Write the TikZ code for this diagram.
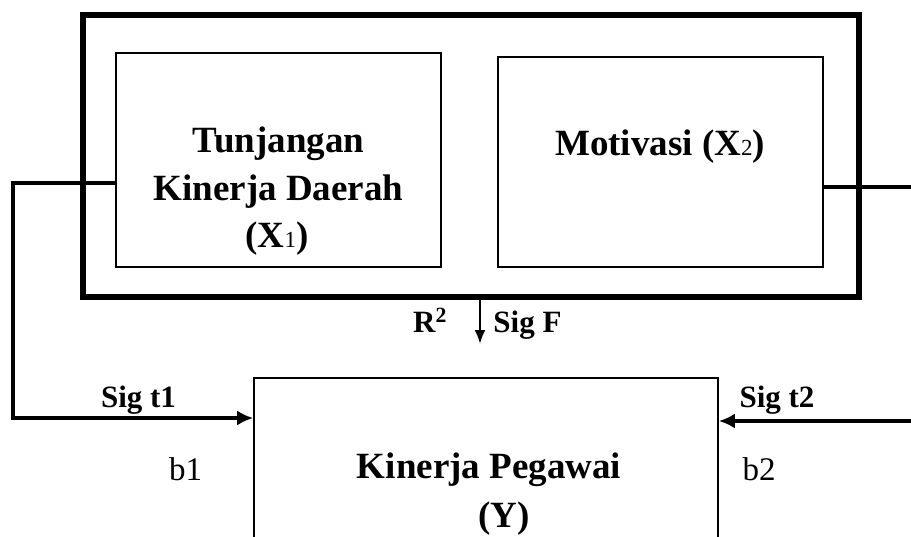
\documentclass[tikz,border=0pt]{standalone}
\usepackage{fontspec}
\setmainfont{Liberation Serif}
\usetikzlibrary{arrows.meta}
\usetikzlibrary{positioning}
\tikzset{
	grpbox/.style={draw, line width=6pt, inner sep=0pt},
	varbox/.style={draw, line width=1.6pt, inner sep=0pt},
	arr/.style={line width=3.6pt, -{Latex[length=16pt,width=15pt]}},
	farr/.style={line width=2.4pt, -{Latex[length=14pt,width=11pt]}},
	big/.style={font=\fontsize{37}{44}\selectfont\bfseries, inner sep=0pt, anchor=base},
	small/.style={font=\fontsize{31}{36}\selectfont\bfseries, inner sep=0pt, anchor=base},
	coef/.style={font=\fontsize{33}{36}\selectfont, inner sep=0pt, anchor=base}
}
\newcommand{\idx}[1]{{\mdseries\fontsize{23}{23}\selectfont #1}}

\begin{document}
\begin{tikzpicture}[x=1pt, y=-1pt]
		\useasboundingbox (0,0) rectangle (911,536);
		% boxes
		\node[grpbox, minimum width=776pt, minimum height=282pt] (grp) at (471,156) {};
		\node[varbox, minimum width=325pt, minimum height=214pt] (x1) at (278.5,160) {};
		\node[varbox, minimum width=325pt, minimum height=210pt] (x2) at (660.5,162) {};
		\node[varbox, minimum width=464pt, minimum height=220pt] (y) at (486,488) {};
		% box texts
		\node[big] (x1a) at (278.5,152) {Tunjangan};
		\node[big] (x1b) at (278.5,200) {Kinerja Daerah};
		\node[big] (x1c) at (277,247) {(X\idx{1})};
		\node[big] (x2a) at (660,155) {Motivasi (X\idx{2})};
		\node[big] (ya) at (489,478) {Kinerja Pegawai};
		\node[big] (yb) at (504,527) {(Y)};
		% connectors
		\coordinate (lt) at (13,183);
		\coordinate (lb) at (13,418);
		\coordinate (rt) at (918,187);
		\coordinate (rb) at (918,421);
		\coordinate (fend) at (480,344);
		\draw[arr] (x1.west |- lt) -- (lt) -- (lb) -- (lb -| y.west);
		\draw[arr] (x2.east |- rt) -- (rt) -- (rb) -- (rb -| y.east);
		\draw[farr] (grp.south -| fend) -- (fend);
		% labels
		\node[small] (r2) at (430,332) {R\textsuperscript{2}};
		\node[small] (sf) at (527.5,332) {Sig F};
		\node[small] (st1) at (138.5,407) {Sig t1};
		\node[small] (st2) at (777,407) {Sig t2};
		\node[coef] (b1) at (185.5,480) {b1};
		\node[coef] (b2) at (759,480) {b2};
	\end{tikzpicture}
\end{document}
